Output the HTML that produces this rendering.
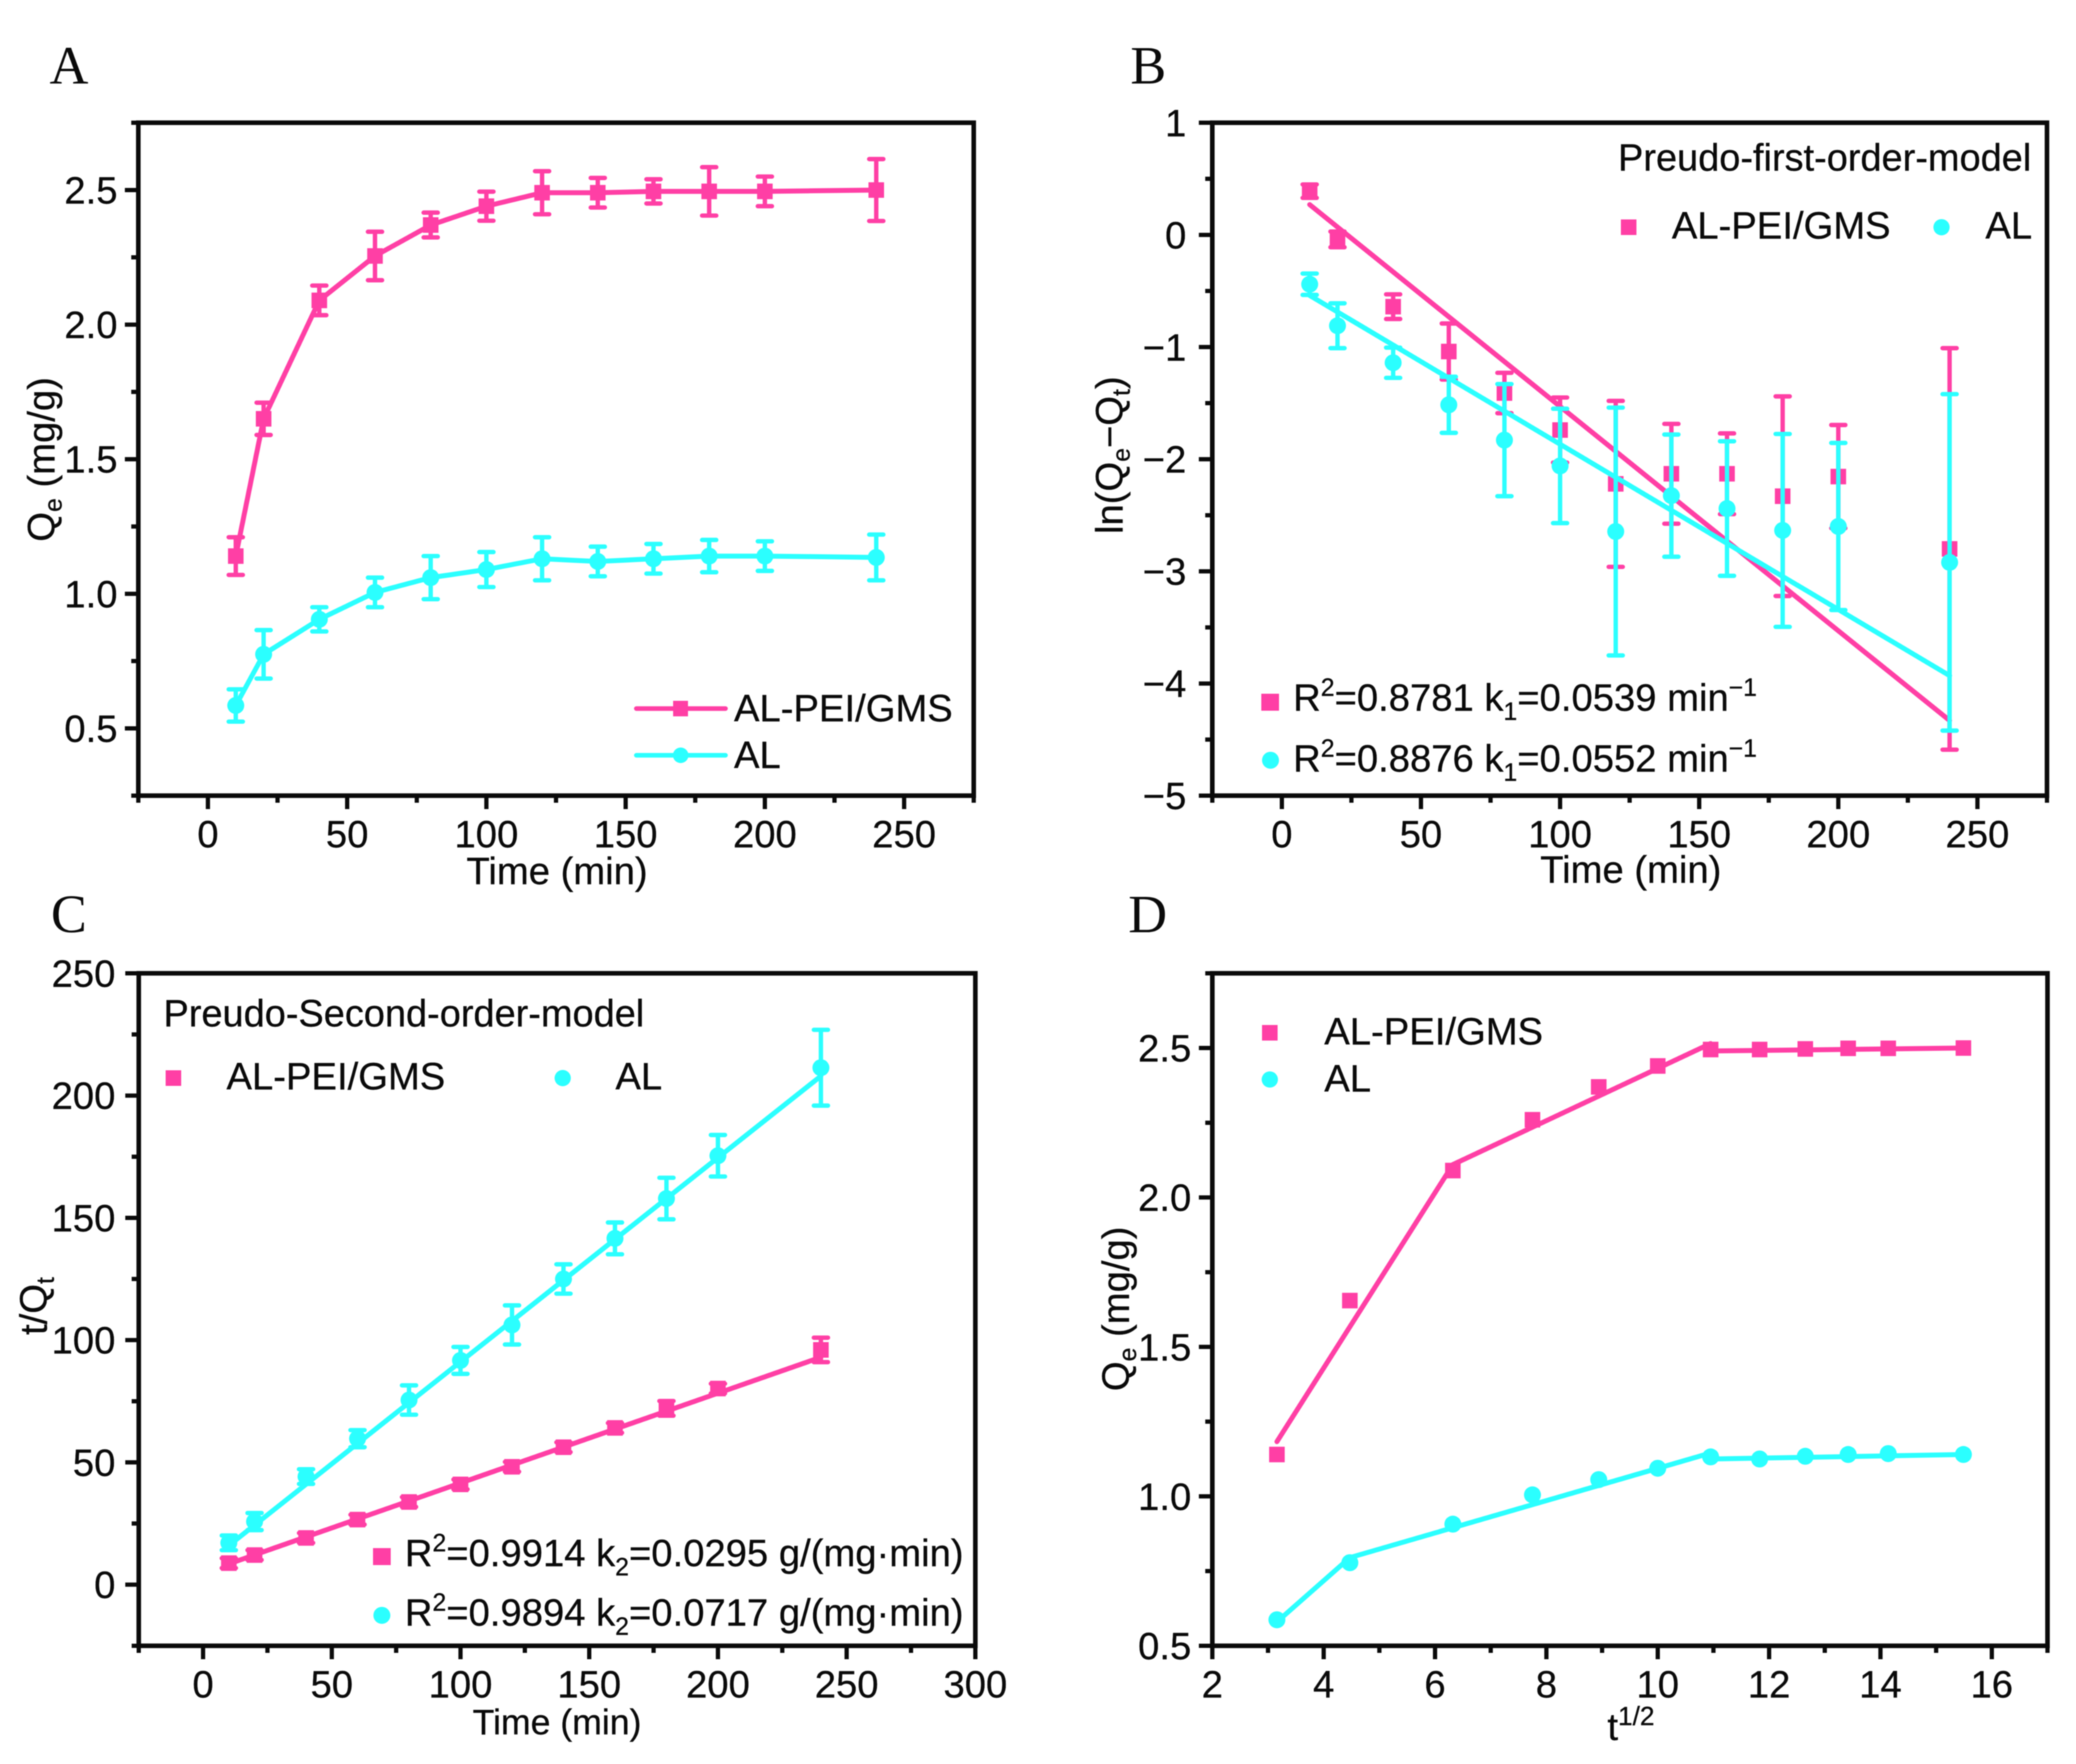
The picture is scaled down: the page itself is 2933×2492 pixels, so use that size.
<!DOCTYPE html>
<html lang="en">
<head>
<meta charset="utf-8">
<title>Adsorption kinetics charts</title>
<style>
html,body{margin:0;padding:0;background:#fff;}
svg{display:block;filter:blur(0.7px);}
text{font-family:"Liberation Sans",Arial,sans-serif;font-size:54px;fill:#0a0a0a;stroke:#0a0a0a;stroke-width:0.4px;}
.letter{font-family:"Liberation Serif","Times New Roman",serif;font-size:76px;stroke-width:0;}
.title{font-size:54px;}
</style>
</head>
<body>
<svg id="figure" xmlns="http://www.w3.org/2000/svg" width="2933" height="2492" viewBox="0 0 2933 2492">
<rect width="2933" height="2492" fill="#fff"/>
<g id="panel-a"></g>
<g id="panel-b"></g>
<g id="panel-c"></g>
<g id="panel-d"></g>

<text class="letter" x="70" y="118">A</text>
<text class="letter" x="1597" y="118">B</text>
<text class="letter" x="72" y="1317">C</text>
<text class="letter" x="1594" y="1317">D</text>

<!-- Panel A text -->
<text class="title" x="787" y="1249" text-anchor="middle">Time (min)</text>
<text class="title" transform="translate(77 649) rotate(-90)" text-anchor="middle">Q<tspan font-size="35" dy="10">e</tspan><tspan dy="-10"> (mg/g)</tspan></text>
<g>
<line x1="899" y1="1001" x2="1025" y2="1001" stroke="#FF3FA5" stroke-width="6.5" stroke-linecap="round"/>
<rect x="951" y="990" width="21" height="22" fill="#FF3FA5"/>
<text x="1037" y="1019">AL-PEI/GMS</text>
<line x1="899" y1="1067" x2="1025" y2="1067" stroke="#2BFFFF" stroke-width="6.5" stroke-linecap="round"/>
<circle cx="961.7" cy="1067" r="11" fill="#2BFFFF"/>
<text x="1037" y="1085">AL</text>
</g>

<!-- Panel B text -->
<text class="title" x="2304" y="1247" text-anchor="middle">Time (min)</text>
<text class="title" transform="translate(1586 643) rotate(-90)" text-anchor="middle">ln(Q<tspan font-size="35" dy="10">e</tspan><tspan dy="-10">−Q</tspan><tspan font-size="35" dy="10">t</tspan><tspan dy="-10">)</tspan></text>
<text x="2286" y="241" style="font-size:53.6px">Preudo-first-order-model</text>
<g>
<rect x="2290" y="310" width="22" height="22" fill="#FF3FA5"/>
<text x="2362" y="337">AL-PEI/GMS</text>
<circle cx="2743" cy="321" r="11.500" fill="#2BFFFF"/>
<text x="2805" y="337">AL</text>
</g>
<g>
<rect x="1782" y="980" width="25" height="24" fill="#FF3FA5"/>
<text x="1827" y="1004">R<tspan font-size="35" dy="-21">2</tspan><tspan dy="21">=0.8781 k</tspan><tspan font-size="35" dy="13">1</tspan><tspan dy="-13">=0.0539 min</tspan><tspan font-size="35" dy="-21">−1</tspan></text>
<circle cx="1795" cy="1074" r="12" fill="#2BFFFF"/>
<text x="1827" y="1090">R<tspan font-size="35" dy="-21">2</tspan><tspan dy="21">=0.8876 k</tspan><tspan font-size="35" dy="13">1</tspan><tspan dy="-13">=0.0552 min</tspan><tspan font-size="35" dy="-21">−1</tspan></text>
</g>

<!-- Panel C text -->
<text x="787" y="2450" text-anchor="middle" style="font-size:50.3px">Time (min)</text>
<text class="title" transform="translate(66 1845) rotate(-90)" text-anchor="middle">t/Q<tspan font-size="35" dy="10">t</tspan></text>
<text x="231" y="1450" style="font-size:53.6px">Preudo-Second-order-model</text>
<g>
<rect x="234" y="1512" width="22" height="22" fill="#FF3FA5"/>
<text x="320" y="1539">AL-PEI/GMS</text>
<circle cx="795" cy="1523" r="11.500" fill="#2BFFFF"/>
<text x="869.500" y="1539">AL</text>
</g>
<g>
<rect x="527" y="2187" width="25" height="24" fill="#FF3FA5"/>
<text x="572" y="2212.500">R<tspan font-size="35" dy="-21">2</tspan><tspan dy="21">=0.9914 k</tspan><tspan font-size="35" dy="13">2</tspan><tspan dy="-13">=0.0295 g/(mg·min)</tspan></text>
<circle cx="539.500" cy="2282" r="12" fill="#2BFFFF"/>
<text x="572" y="2296.500">R<tspan font-size="35" dy="-21">2</tspan><tspan dy="21">=0.9894 k</tspan><tspan font-size="35" dy="13">2</tspan><tspan dy="-13">=0.0717 g/(mg·min)</tspan></text>
</g>

<!-- Panel D text -->
<text x="2271" y="2458">t<tspan font-size="37" dy="-21">1/2</tspan></text>
<text class="title" transform="translate(1595 1849) rotate(-90)" text-anchor="middle">Q<tspan font-size="35" dy="10">e</tspan><tspan dy="-10"> (mg/g)</tspan></text>
<g>
<rect x="1783" y="1448" width="22" height="22" fill="#FF3FA5"/>
<text x="1871" y="1475.500">AL-PEI/GMS</text>
<circle cx="1794" cy="1525" r="11.500" fill="#2BFFFF"/>
<text x="1871" y="1542">AL</text>
</g>
</svg>

<script>
// ---------- Shared data ----------
const timeMin = [10, 20, 40, 60, 80, 100, 120, 140, 160, 180, 200, 240];

// Panel A: Qe vs time
const aPeiQ = [1.14, 1.65, 2.09, 2.255, 2.37, 2.44, 2.49, 2.49, 2.495, 2.495, 2.495, 2.5];
const aPeiErr = [0.07, 0.06, 0.055, 0.09, 0.046, 0.054, 0.08, 0.055, 0.045, 0.09, 0.055, 0.115];
const aAlQ = [0.585, 0.775, 0.905, 1.005, 1.06, 1.09, 1.13, 1.12, 1.13, 1.14, 1.14, 1.135];
const aAlErr = [0.06, 0.09, 0.045, 0.055, 0.08, 0.065, 0.08, 0.055, 0.055, 0.06, 0.055, 0.085];
const aXTicks = [0, 50, 100, 150, 200, 250];
const aXLabels = ['0', '50', '100', '150', '200', '250'];
const aYTicks = [0.5, 1.0, 1.5, 2.0, 2.5];
const aYLabels = ['0.5', '1.0', '1.5', '2.0', '2.5'];

// Panel B: pseudo-first-order
const bPeiY = [0.39, -0.04, -0.64, -1.04, -1.41, -1.74, -2.22, -2.13, -2.13, -2.33, -2.155, -2.80];
const bPeiErr = [0.06, 0.07, 0.11, 0.25, 0.18, 0.29, 0.74, 0.445, 0.36, 0.89, 0.46, 1.79];
const bAlY = [-0.44, -0.81, -1.14, -1.515, -1.83, -2.06, -2.645, -2.325, -2.44, -2.635, -2.6, -2.92];
const bAlErr = [0.095, 0.2, 0.135, 0.25, 0.5, 0.51, 1.105, 0.545, 0.6, 0.86, 0.745, 1.5];
const bFitT = [10, 240];
const bPeiFit = [0.27, -4.33];
const bAlFit = [-0.54, -3.93];
const bXTicks = [0, 50, 100, 150, 200, 250];
const bXLabels = ['0', '50', '100', '150', '200', '250'];
const bYTicks = [-5, -4, -3, -2, -1, 0, 1];
const bYLabels = ['−5', '−4', '−3', '−2', '−1', '0', '1'];

// Panel C: pseudo-second-order
const cPeiY = [8.8, 12.1, 19.1, 26.6, 33.8, 41, 48.2, 56.2, 64.1, 72.1, 80.2, 96];
const cPeiErr = [2, 2, 2, 2, 2, 2, 2, 2, 2, 3, 2, 5];
const cAlY = [17.1, 25.8, 44.2, 59.7, 75.5, 91.7, 106.2, 125, 141.6, 157.9, 175.4, 211.4];
const cAlErr = [3, 3.5, 3, 3.5, 6, 5.5, 8, 6, 6.5, 8.5, 8.5, 15.5];
const cFitT = [10, 240];
const cPeiFit = [8.5, 93];
const cAlFit = [16, 208];
const cXTicks = [0, 50, 100, 150, 200, 250, 300];
const cXLabels = ['0', '50', '100', '150', '200', '250', '300'];
const cYTicks = [0, 50, 100, 150, 200, 250];
const cYLabels = ['0', '50', '100', '150', '200', '250'];

// Panel D: intraparticle diffusion
const dRootT = [3.16, 4.47, 6.32, 7.75, 8.94, 10, 10.95, 11.83, 12.65, 13.42, 14.14, 15.49];
const dPeiQ = [1.14, 1.655, 2.09, 2.26, 2.37, 2.44, 2.495, 2.495, 2.497, 2.499, 2.499, 2.5];
const dAlQ = [0.587, 0.778, 0.907, 1.005, 1.056, 1.094, 1.132, 1.125, 1.134, 1.14, 1.143, 1.14];
const dPeiFitA_X = [3.16, 6.32, 10.95];
const dPeiFitA_Y = [1.183, 2.11, 2.515];
const dPeiFitB_X = [10.95, 15.49];
const dPeiFitB_Y = [2.49, 2.5];
const dAlFitA_X = [3.16, 4.47, 10.95];
const dAlFitA_Y = [0.58, 0.795, 1.145];
const dAlFitB_X = [10.95, 15.49];
const dAlFitB_Y = [1.125, 1.14];
const dXTicks = [2, 4, 6, 8, 10, 12, 14, 16];
const dXLabels = ['2', '4', '6', '8', '10', '12', '14', '16'];
const dYTicks = [0.5, 1.0, 1.5, 2.0, 2.5];
const dYLabels = ['0.5', '1.0', '1.5', '2.0', '2.5'];

// ---------- Drawing ----------
const NS = 'http://www.w3.org/2000/svg';
const PINK = '#FF3FA5';
const CYAN = '#2BFFFF';
const INK = '#0a0a0a';

function mk(tag, attrs, parent) {
  const el = document.createElementNS(NS, tag);
  for (const k in attrs) el.setAttribute(k, attrs[k]);
  parent.appendChild(el);
  return el;
}

function makeAxes(id, b, dom, xTicks, xLabels, yTicks, yLabels, opts) {
  const root = document.getElementById(id);
  const sx = v => b.left + (v - dom.xmin) / (dom.xmax - dom.xmin) * (b.right - b.left);
  const sy = v => b.bottom - (v - dom.ymin) / (dom.ymax - dom.ymin) * (b.bottom - b.top);

  const xMinorStep = (xTicks[1] - xTicks[0]) / 2;
  for (let v = xTicks[0] - xMinorStep; v >= dom.xmin - 1e-9; v -= xMinorStep * 2) xMinor(v);
  for (let v = xTicks[0] + xMinorStep; v <= dom.xmax + 1e-9; v += xMinorStep * 2) xMinor(v);
  function xMinor(v) {
    const t = mk('line', {x1: sx(v), x2: sx(v), y1: b.bottom, y2: b.bottom + 10, stroke: INK, 'stroke-width': 6}, root);
    
    
  }
  const yMinorStep = (yTicks[1] - yTicks[0]) / 2;
  for (let v = yTicks[0] - yMinorStep; v >= dom.ymin - 1e-9; v -= yMinorStep * 2) yMinor(v);
  for (let v = yTicks[0] + yMinorStep; v <= dom.ymax + 1e-9; v += yMinorStep * 2) yMinor(v);
  function yMinor(v) {
    const t = mk('line', {x1: b.left - 10, x2: b.left, y1: sy(v), y2: sy(v), stroke: INK, 'stroke-width': 6}, root);
    
    
  }

  xTicks.forEach((v, i) => {
    const t = mk('line', {x1: sx(v), x2: sx(v), y1: b.bottom, y2: b.bottom + 19, stroke: INK, 'stroke-width': 6}, root);
    
    
    const l = mk('text', {x: sx(v), y: opts.xLabelY, 'text-anchor': 'middle'}, root);
    l.textContent = xLabels[i];
    
    
  });
  yTicks.forEach((v, i) => {
    const t = mk('line', {x1: b.left - 19, x2: b.left, y1: sy(v), y2: sy(v), stroke: INK, 'stroke-width': 6}, root);
    
    
    const l = mk('text', {x: opts.yLabelX, y: sy(v) + 19, 'text-anchor': 'end'}, root);
    l.textContent = yLabels[i];
    
    
  });

  const frame = mk('rect', {x: b.left, y: b.top, width: b.right - b.left, height: b.bottom - b.top, fill: 'none', stroke: INK, 'stroke-width': 6.5}, root);
  
  
  return {root, sx, sy};
}

function drawPolyline(ax, xs, ys, color, name) {
  const pts = xs.map((x, i) => ax.sx(x) + ',' + ax.sy(ys[i])).join(' ');
  const pl = mk('polyline', {points: pts, fill: 'none', stroke: color, 'stroke-width': 7, 'stroke-linecap': 'round', 'stroke-linejoin': 'round'}, ax.root);
  
  
}

function drawErrors(ax, xs, ys, errs, color) {
  xs.forEach((x, i) => {
    const px = ax.sx(x);
    const hi = ax.sy(ys[i] + errs[i]);
    const lo = ax.sy(ys[i] - errs[i]);
    const p = mk('path', {
      d: 'M' + px + ' ' + hi + 'V' + lo + 'M' + (px - 10) + ' ' + hi + 'H' + (px + 10) + 'M' + (px - 10) + ' ' + lo + 'H' + (px + 10),
      fill: 'none', stroke: color, 'stroke-width': 6.2, 'stroke-linecap': 'round'
    }, ax.root);
    
    
  });
}

function drawMarkers(ax, xs, ys, color, shape) {
  xs.forEach((x, i) => {
    const px = ax.sx(x);
    const py = ax.sy(ys[i]);
    let m;
    if (shape === 'square') {
      m = mk('rect', {x: px - 11, y: py - 11, width: 22, height: 22, fill: color}, ax.root);
    } else {
      m = mk('circle', {cx: px, cy: py, r: 12, fill: color}, ax.root);
    }
    
    
  });
}

// Panel A
const axA = makeAxes('panel-a', {left: 195.4, right: 1375.7, top: 173.4, bottom: 1124},
  {xmin: -25, xmax: 275, ymin: 0.25, ymax: 2.75}, aXTicks, aXLabels, aYTicks, aYLabels, {xLabelY: 1197, yLabelX: 166});
drawErrors(axA, timeMin, aPeiQ, aPeiErr, PINK);
drawPolyline(axA, timeMin, aPeiQ, PINK, 'line-al-pei-gms');
drawMarkers(axA, timeMin, aPeiQ, PINK, 'square');
drawErrors(axA, timeMin, aAlQ, aAlErr, CYAN);
drawPolyline(axA, timeMin, aAlQ, CYAN, 'line-al');
drawMarkers(axA, timeMin, aAlQ, CYAN, 'circle');

// Panel B
const axB = makeAxes('panel-b', {left: 1712.75, right: 2892, top: 173.4, bottom: 1124},
  {xmin: -25, xmax: 275, ymin: -5, ymax: 1}, bXTicks, bXLabels, bYTicks, bYLabels, {xLabelY: 1197, yLabelX: 1676});
drawErrors(axB, timeMin, bPeiY, bPeiErr, PINK);
drawMarkers(axB, timeMin, bPeiY, PINK, 'square');
drawPolyline(axB, bFitT, bPeiFit, PINK, 'fit-line-al-pei-gms');
drawErrors(axB, timeMin, bAlY, bAlErr, CYAN);
drawMarkers(axB, timeMin, bAlY, CYAN, 'circle');
drawPolyline(axB, bFitT, bAlFit, CYAN, 'fit-line-al');

// Panel C
const axC = makeAxes('panel-c', {left: 196, right: 1378, top: 1375, bottom: 2325},
  {xmin: -25, xmax: 300, ymin: -25, ymax: 250}, cXTicks, cXLabels, cYTicks, cYLabels, {xLabelY: 2398, yLabelX: 163});
drawErrors(axC, timeMin, cPeiY, cPeiErr, PINK);
drawMarkers(axC, timeMin, cPeiY, PINK, 'square');
drawPolyline(axC, cFitT, cPeiFit, PINK, 'fit-line-al-pei-gms');
drawErrors(axC, timeMin, cAlY, cAlErr, CYAN);
drawMarkers(axC, timeMin, cAlY, CYAN, 'circle');
drawPolyline(axC, cFitT, cAlFit, CYAN, 'fit-line-al');

// Panel D
const axD = makeAxes('panel-d', {left: 1712.8, right: 2892.7, top: 1375, bottom: 2325},
  {xmin: 2, xmax: 17, ymin: 0.5, ymax: 2.75}, dXTicks, dXLabels, dYTicks, dYLabels, {xLabelY: 2398, yLabelX: 1683});
drawPolyline(axD, dPeiFitA_X, dPeiFitA_Y, PINK, 'fit-line-al-pei-gms-rise');
drawPolyline(axD, dPeiFitB_X, dPeiFitB_Y, PINK, 'fit-line-al-pei-gms-plateau');
drawMarkers(axD, dRootT, dPeiQ, PINK, 'square');
drawPolyline(axD, dAlFitA_X, dAlFitA_Y, CYAN, 'fit-line-al-rise');
drawPolyline(axD, dAlFitB_X, dAlFitB_Y, CYAN, 'fit-line-al-plateau');
drawMarkers(axD, dRootT, dAlQ, CYAN, 'circle');
</script>
</body>
</html>
